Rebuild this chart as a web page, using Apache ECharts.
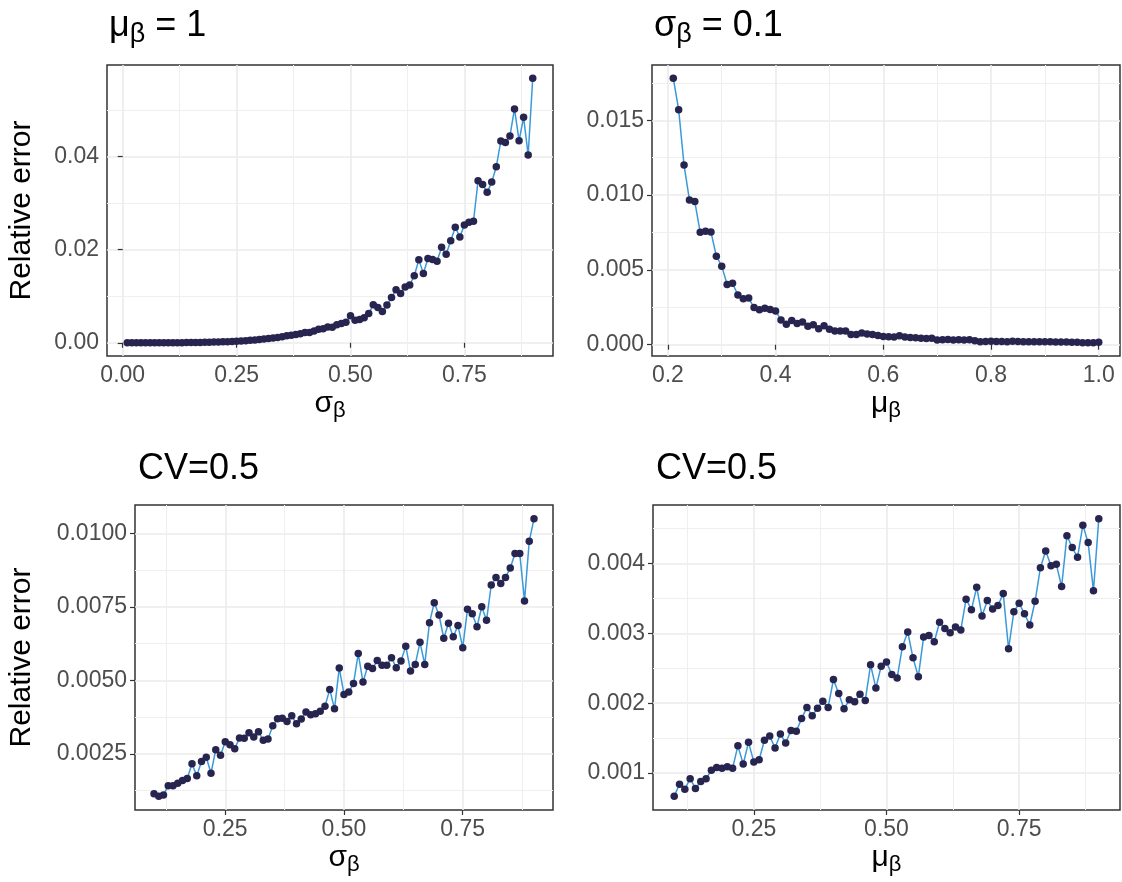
<!DOCTYPE html>
<html><head><meta charset="utf-8">
<script src="https://cdn.jsdelivr.net/npm/echarts@6/dist/echarts.min.js"></script>
<style>html,body{margin:0;padding:0;background:#fff}#c{width:1122px;height:882px}</style>
</head><body><div id="c"></div>
<script>
// ---------- data ----------
const sigmaTop = [0.01,0.02,0.03,0.04,0.05,0.06,0.07,0.08,0.09,0.10,
0.11,0.12,0.13,0.14,0.15,0.16,0.17,0.18,0.19,0.20,
0.21,0.22,0.23,0.24,0.25,0.26,0.27,0.28,0.29,0.30,
0.31,0.32,0.33,0.34,0.35,0.36,0.37,0.38,0.39,0.40,
0.41,0.42,0.43,0.44,0.45,0.46,0.47,0.48,0.49,0.50,
0.51,0.52,0.53,0.54,0.55,0.56,0.57,0.58,0.59,0.60,
0.61,0.62,0.63,0.64,0.65,0.66,0.67,0.68,0.69,0.70,
0.71,0.72,0.73,0.74,0.75,0.76,0.77,0.78,0.79,0.80,
0.81,0.82,0.83,0.84,0.85,0.86,0.87,0.88,0.89,0.90];
const errTopLeft = [0.000000,0.000000,0.000001,0.000001,0.000001,0.000001,0.000002,0.000004,0.000006,0.000009,
0.000013,0.000018,0.000025,0.000034,0.000045,0.000058,0.000073,0.00009,0.00011,0.00014,
0.00017,0.00020,0.00024,0.00029,0.00034,0.00040,0.00046,0.00053,0.00061,0.00070,
0.00081,0.00090,0.00101,0.00113,0.00128,0.00150,0.00163,0.00176,0.00192,0.00219,
0.00223,0.00251,0.00293,0.00300,0.00338,0.00331,0.00386,0.00412,0.00438,0.00582,
0.00484,0.00502,0.00538,0.00626,0.00817,0.0076,0.0067,0.0081,0.0097,0.0114,
0.0106,0.0120,0.0124,0.0144,0.0178,0.0149,0.0181,0.0179,0.0175,0.0205,
0.0190,0.0219,0.0248,0.0227,0.0253,0.0259,0.0261,0.0348,0.0340,0.0323,
0.0345,0.0378,0.0433,0.0430,0.0444,0.0502,0.0434,0.0484,0.0403,0.0568];

const muTop = [0.21,0.22,0.23,0.24,0.25,0.26,0.27,0.28,0.29,0.30,
0.31,0.32,0.33,0.34,0.35,0.36,0.37,0.38,0.39,0.40,
0.41,0.42,0.43,0.44,0.45,0.46,0.47,0.48,0.49,0.50,
0.51,0.52,0.53,0.54,0.55,0.56,0.57,0.58,0.59,0.60,
0.61,0.62,0.63,0.64,0.65,0.66,0.67,0.68,0.69,0.70,
0.71,0.72,0.73,0.74,0.75,0.76,0.77,0.78,0.79,0.80,
0.81,0.82,0.83,0.84,0.85,0.86,0.87,0.88,0.89,0.90,
0.91,0.92,0.93,0.94,0.95,0.96,0.97,0.98,0.99,1.00];
const errTopRight = [0.01781,0.01571,0.01201,0.00968,0.00957,0.00751,0.00758,0.00753,0.00592,0.00525,
0.00403,0.00410,0.00332,0.00308,0.00312,0.00248,0.00233,0.00244,0.00235,0.00226,
0.00166,0.00137,0.00162,0.00142,0.00151,0.00124,0.00133,0.00106,0.00126,0.00104,
0.00091,0.00091,0.00091,0.00069,0.00069,0.00078,0.00071,0.00069,0.00062,0.00055,
0.00053,0.00051,0.00060,0.00051,0.00049,0.00047,0.00044,0.00042,0.00044,0.00031,
0.00033,0.00035,0.00031,0.00033,0.00031,0.00033,0.00027,0.00020,0.00022,0.00024,
0.00022,0.00022,0.00020,0.00024,0.00022,0.00020,0.00020,0.00020,0.00020,0.00020,
0.00020,0.00018,0.00018,0.00018,0.00016,0.00016,0.00013,0.00013,0.00013,0.00016];

const xBottom = [0.10,0.11,0.12,0.13,0.14,0.15,0.16,0.17,0.18,0.19,
0.20,0.21,0.22,0.23,0.24,0.25,0.26,0.27,0.28,0.29,
0.30,0.31,0.32,0.33,0.34,0.35,0.36,0.37,0.38,0.39,
0.40,0.41,0.42,0.43,0.44,0.45,0.46,0.47,0.48,0.49,
0.50,0.51,0.52,0.53,0.54,0.55,0.56,0.57,0.58,0.59,
0.60,0.61,0.62,0.63,0.64,0.65,0.66,0.67,0.68,0.69,
0.70,0.71,0.72,0.73,0.74,0.75,0.76,0.77,0.78,0.79,
0.80,0.81,0.82,0.83,0.84,0.85,0.86,0.87,0.88,0.89,
0.90];
const errBottomLeft = [0.00114,0.00106,0.00110,0.00141,0.00141,0.00150,0.00159,0.00166,0.00216,0.00175,
0.00224,0.00238,0.00184,0.00264,0.00245,0.00291,0.00281,0.00267,0.00304,0.00303,
0.00322,0.00307,0.00325,0.00296,0.00300,0.00345,0.00369,0.00371,0.00360,0.00379,
0.00352,0.00368,0.00392,0.00383,0.00386,0.00395,0.00412,0.00469,0.00403,0.00542,
0.00452,0.00460,0.00489,0.00591,0.00494,0.00548,0.00540,0.00567,0.00551,0.00551,
0.00577,0.00543,0.00566,0.00616,0.00532,0.00554,0.00629,0.00554,0.00696,0.00764,
0.00722,0.00643,0.00694,0.00648,0.00686,0.00611,0.00742,0.00726,0.00682,0.00750,
0.00704,0.00824,0.00850,0.00829,0.00850,0.00882,0.00931,0.00931,0.00770,0.00973,
0.01049];
const errBottomRight = [0.00067,0.00084,0.00077,0.00092,0.00078,0.00088,0.00092,0.00104,0.00108,0.00107,
0.00109,0.00107,0.00139,0.00113,0.00144,0.00116,0.00119,0.00147,0.00153,0.00136,
0.00156,0.00143,0.00161,0.00160,0.00178,0.00194,0.00182,0.00193,0.00203,0.00194,
0.00234,0.00214,0.00192,0.00205,0.00202,0.00213,0.00204,0.00255,0.00222,0.00253,
0.00259,0.00241,0.00236,0.00281,0.00302,0.00265,0.00238,0.00295,0.00297,0.00288,
0.00316,0.00307,0.00301,0.00309,0.00305,0.00349,0.00334,0.00366,0.00325,0.00347,
0.00335,0.00340,0.00357,0.00278,0.00331,0.00343,0.00328,0.00312,0.00346,0.00394,
0.00418,0.00397,0.00399,0.00367,0.00440,0.00423,0.00409,0.00455,0.00430,0.00361,
0.00464];

// tick values
const ticksX1 = [0, 0.25, 0.5, 0.75];         const minorX1 = [0.125, 0.375, 0.625, 0.875];
const ticksY1 = [0, 0.02, 0.04];              const minorY1 = [0.01, 0.03, 0.05];
const ticksX2 = [0.2, 0.4, 0.6, 0.8, 1.0];    const minorX2 = [0.3, 0.5, 0.7, 0.9];
const ticksY2 = [0, 0.005, 0.010, 0.015];     const minorY2 = [0.0025, 0.0075, 0.0125, 0.0175];
const ticksX3 = [0.25, 0.5, 0.75];            const minorX3 = [0.125, 0.375, 0.625, 0.875];
const ticksY3 = [0.0025, 0.005, 0.0075, 0.01];const minorY3 = [0.00125, 0.00375, 0.00625, 0.00875];
const ticksX4 = [0.25, 0.5, 0.75];            const minorX4 = [0.125, 0.375, 0.625, 0.875];
const ticksY4 = [0.001, 0.002, 0.003, 0.004]; const minorY4 = [0.0015, 0.0025, 0.0035, 0.0045];

// ---------- chart ----------
const FF = '"Liberation Sans", Arial, Helvetica, sans-serif';
const LINE = '#3A9AD9', PT = '#272550';

function ext(a) {
  const mn = Math.min(...a), mx = Math.max(...a), d = (mx - mn) * 0.05;
  return [mn - d, mx + d];
}
function subRich(big, small, pad) {
  return {
    m: {fontSize: big, fontFamily: FF, color: '#000', fontWeight: 'normal'},
    s: {fontSize: small, fontFamily: FF, color: '#000', fontWeight: 'normal', padding: [pad, 0, 0, 0]}
  };
}
function xAxes(g, data, major, minor, dec, name) {
  const [mn, mx] = ext(data);
  return [{
    type: 'value', gridIndex: g, min: mn, max: mx, position: 'bottom',
    axisLine: {show: false},
    axisTick: {show: true, length: 5, customValues: major, lineStyle: {color: '#333333', width: 1.2}},
    axisLabel: {customValues: major, formatter: v => v.toFixed(dec), color: '#4D4D4D', fontSize: 23, fontFamily: FF, margin: 8},
    splitLine: {show: true, lineStyle: {color: '#EBEBEB', width: 1.6}},
    name: name, nameLocation: 'middle', nameGap: 30,
    nameTextStyle: {fontSize: 30, fontFamily: FF, color: '#000', rich: subRich(30, 22, 14)}
  }, {
    type: 'value', gridIndex: g, min: mn, max: mx, position: 'bottom',
    axisLine: {show: false}, axisTick: {show: false, customValues: minor},
    axisLabel: {show: false, customValues: minor},
    splitLine: {show: true, lineStyle: {color: '#EFEFEF', width: 1}}
  }];
}
function yAxes(g, data, major, minor, dec, name, gap) {
  const [mn, mx] = ext(data);
  return [{
    type: 'value', gridIndex: g, min: mn, max: mx, position: 'left',
    axisLine: {show: false},
    axisTick: {show: true, length: 5, customValues: major, lineStyle: {color: '#333333', width: 1.2}},
    axisLabel: {customValues: major, formatter: v => v.toFixed(dec), color: '#4D4D4D', fontSize: 23, fontFamily: FF, margin: 8},
    splitLine: {show: true, lineStyle: {color: '#EBEBEB', width: 1.6}},
    name: name, nameLocation: 'middle', nameGap: gap,
    nameTextStyle: {fontSize: 30, fontFamily: FF, color: '#000'}
  }, {
    type: 'value', gridIndex: g, min: mn, max: mx, position: 'left',
    axisLine: {show: false}, axisTick: {show: false, customValues: minor},
    axisLabel: {show: false, customValues: minor},
    splitLine: {show: true, lineStyle: {color: '#EFEFEF', width: 1}}
  }];
}
function series(g, xs, ys) {
  return {
    type: 'line', xAxisIndex: 2 * g, yAxisIndex: 2 * g,
    data: xs.map((x, i) => [x, ys[i]]),
    symbol: 'circle', symbolSize: 7.5, showSymbol: true,
    lineStyle: {color: LINE, width: 1.5},
    itemStyle: {color: PT, borderWidth: 0},
    animation: false, silent: true, z: 3
  };
}
const gridBase = {show: true, borderColor: '#333333', borderWidth: 1.5, backgroundColor: '#fff', containLabel: false};
const chart = echarts.init(document.getElementById('c'), null, {renderer: 'canvas'});
chart.setOption({
  animation: false,
  backgroundColor: '#fff',
  title: [
    {left: 104, top: 0, text: '{m|μ}{s|β}{m| = 1}', textStyle: {fontWeight: 'normal', rich: subRich(36, 27, 16)}},
    {left: 649, top: 0, text: '{m|σ}{s|β}{m| = 0.1}', textStyle: {fontWeight: 'normal', rich: subRich(36, 27, 16)}},
    {left: 133, top: 446, text: 'CV=0.5', textStyle: {fontSize: 36, fontFamily: FF, fontWeight: 'normal', color: '#000'}},
    {left: 651, top: 446, text: 'CV=0.5', textStyle: {fontSize: 36, fontFamily: FF, fontWeight: 'normal', color: '#000'}}
  ],
  grid: [
    Object.assign({left: 107, top: 65, width: 446, height: 291}, gridBase),
    Object.assign({left: 652, top: 65, width: 468, height: 291}, gridBase),
    Object.assign({left: 135, top: 505, width: 418, height: 305}, gridBase),
    Object.assign({left: 653, top: 505, width: 467, height: 305}, gridBase)
  ],
  xAxis: [].concat(
    xAxes(0, sigmaTop, ticksX1, minorX1, 2, '{m|σ}{s|β}'),
    xAxes(1, muTop, ticksX2, minorX2, 1, '{m|μ}{s|β}'),
    xAxes(2, xBottom, ticksX3, minorX3, 2, '{m|σ}{s|β}'),
    xAxes(3, xBottom, ticksX4, minorX4, 2, '{m|μ}{s|β}')
  ),
  yAxis: [].concat(
    yAxes(0, errTopLeft, ticksY1, minorY1, 2, 'Relative error', 70),
    yAxes(1, errTopRight, ticksY2, minorY2, 3, '', 70),
    yAxes(2, errBottomLeft, ticksY3, minorY3, 4, 'Relative error', 98),
    yAxes(3, errBottomRight, ticksY4, minorY4, 3, '', 70)
  ),
  series: [
    series(0, sigmaTop, errTopLeft),
    series(1, muTop, errTopRight),
    series(2, xBottom, errBottomLeft),
    series(3, xBottom, errBottomRight)
  ]
});
</script></body></html>
